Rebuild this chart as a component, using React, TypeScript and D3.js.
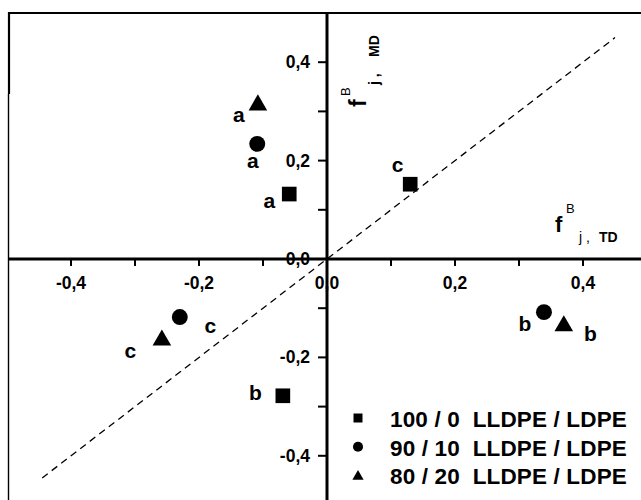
import React from "react";
import * as d3 from "d3";

// ---- data ----
const seriesNames = ["100 / 0  LLDPE / LDPE", "90 / 10  LLDPE / LDPE", "80 / 20  LLDPE / LDPE"];
const seriesShapes = ["square", "circle", "triangle"];
const pointLetters = ["a", "c", "b"];
const squareX = [-0.059, 0.13, -0.069];
const squareY = [0.132, 0.152, -0.278];
const circleX = [-0.109, -0.23, 0.339];
const circleY = [0.234, -0.118, -0.108];
const triangleX = [-0.108, -0.258, 0.37];
const triangleY = [0.315, -0.163, -0.134];
const xTicks = [-0.4, -0.2, 0.0, 0.2, 0.4];
const yTicks = [0.4, 0.2, 0.0, -0.2, -0.4];
const xMinorTicks = [-0.3, -0.1, 0.1, 0.3];
const yMinorTicks = [0.3, 0.1, -0.1, -0.3];
const diagStart = -0.445;
const diagEnd = 0.45;

// ---- layout (label offsets in px, relative to markers) ----
const labelOffsets: Record<string, [number, number][]> = {
  square: [[-20, 14], [-12.5, -12], [-27.5, 4]],
  circle: [[-4.5, 24], [30.5, 16], [-19, 19]],
  triangle: [[-19, 18], [-31.5, 19], [26.5, 16]],
};

const FONT = "'Liberation Sans', Arial, Helvetica, sans-serif";

export default function App() {
  const W = 641, H = 500;
  const x = d3.scaleLinear().domain([-0.5, 0.5]).range([7, 647]);
  const y = d3.scaleLinear().domain([-0.5, 0.5]).range([505, 13]);
  const fmt = (v: number) => d3.format(".1f")(v).replace(".", ",").replace("−", "-");

  const xs = [squareX, circleX, triangleX];
  const ys = [squareY, circleY, triangleY];
  const symType: Record<string, d3.SymbolType> = {
    square: d3.symbolSquare,
    circle: d3.symbolCircle,
    triangle: d3.symbolTriangle,
  };
  const bigSize: Record<string, number> = { square: 215, circle: 200, triangle: 150 };
  const smallSize: Record<string, number> = { square: 81, circle: 80, triangle: 55 };

  const x0 = x(0), y0 = y(0);

  return (
    <svg width={W} height={H} style={{ position: "absolute", left: 0, top: 0, background: "#fff" }}
      fontFamily={FONT}>
      <rect x={0} y={0} width={W} height={H} fill="#fff" />
      {/* frame */}
      <line x1={8} x2={W} y1={13} y2={13} stroke="#000" strokeWidth={2.2} />
      <line x1={9} x2={9} y1={12} y2={94} stroke="#000" strokeWidth={2.2} />
      <line x1={8.5} x2={8.5} y1={94} y2={H} stroke="#000" strokeWidth={1.4} />

      {/* diagonal dashed line */}
      <line x1={x(diagStart)} y1={y(diagStart)} x2={x(diagEnd)} y2={y(diagEnd)}
        stroke="#000" strokeWidth={1.3} strokeDasharray="7,5" />

      {/* tick labels */}
      {xTicks.map((t) => (
        <text key={"xl" + t} x={x(t)} y={288.5} textAnchor="middle" fontSize={17.5} fontWeight="bold">{fmt(t)}</text>
      ))}
      {yTicks.map((t) => (
        <text key={"yl" + t} x={310} y={y(t) + 6} textAnchor="end" fontSize={17.5} fontWeight="bold">{fmt(t)}</text>
      ))}

      {/* ticks */}
      {xTicks.concat(xMinorTicks).map((t) => (
        <line key={"xt" + t} x1={x(t)} x2={x(t)} y1={y0} y2={y0 + 7} stroke="#000" strokeWidth={2} />
      ))}
      {yTicks.concat(yMinorTicks).map((t) => (
        <line key={"yt" + t} x1={x0 - 9} x2={x0} y1={y(t)} y2={y(t)} stroke="#000" strokeWidth={2} />
      ))}

      {/* axes */}
      <line x1={9} x2={W} y1={y0} y2={y0} stroke="#000" strokeWidth={3} />
      <line x1={x0} x2={x0} y1={12} y2={H} stroke="#000" strokeWidth={3} />

      {/* points */}
      {seriesShapes.map((s, si) =>
        xs[si].map((vx, i) => {
          const px = x(vx), py = y(ys[si][i]);
          const path = d3.symbol().type(symType[s]).size(bigSize[s])()!;
          const [dx, dy] = labelOffsets[s][i];
          return (
            <g key={s + i}>
              <path d={path} transform={`translate(${px},${py + (s === "triangle" ? 1 : 0)})`} fill="#000" />
              <text x={px + dx} y={py + dy} textAnchor="middle" fontSize={21} fontWeight="bold">{pointLetters[i]}</text>
            </g>
          );
        })
      )}

      {/* axis titles */}
      <g transform="translate(366,107) rotate(-90)">
        <text x={0} y={0} fontSize={23} fontWeight="bold">f</text>
        <text x={11} y={-16} fontSize={13}>B</text>
        <text x={22} y={13} fontSize={14} fontWeight="bold">j ,</text>
        <text x={50} y={13} fontSize={14} fontWeight="bold">MD</text>
      </g>
      <g transform="translate(555,232)">
        <text x={0} y={0} fontSize={22} fontWeight="bold">f</text>
        <text x={11} y={-19} fontSize={13}>B</text>
        <text x={24} y={10} fontSize={14}>j ,</text>
        <text x={44} y={10} fontSize={14} fontWeight="bold">TD</text>
      </g>

      {/* legend */}
      {seriesNames.map((name, i) => {
        const ly = 418 + i * 28.7;
        const s = seriesShapes[i];
        const path = d3.symbol().type(symType[s]).size(smallSize[s])()!;
        return (
          <g key={"lg" + i}>
            <path d={path} transform={`translate(358,${ly + (s === "triangle" ? 1 : 0)})`} fill="#000" />
            <text x={390} y={ly + 9} fontSize={22.5} fontWeight="bold" letterSpacing={0.15} style={{ whiteSpace: "pre" }}>{name}</text>
          </g>
        );
      })}
    </svg>
  );
}
